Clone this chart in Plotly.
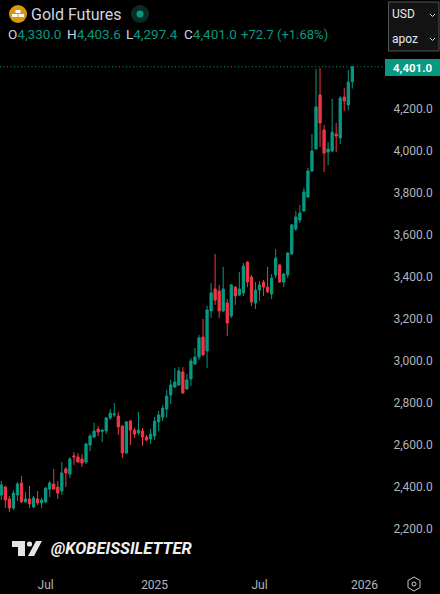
import plotly.graph_objects as go
import pandas as pd

first_week = "2024-04-15"
opens = [2362,2400,2343,2300,2362,2419,2329,2343,2305,2343,2324,2329,2390,2414,2400,2381,2486,2462,2548,2543,
         2533,2519,2600,2638,2676,2664,2667,2729,2743,2738,2690,2562,2714,2671,2657,2667,2638,2629,2643,2710,
         2733,2771,2838,2876,2886,2948,2867,2914,2986,3019,3114,3048,3238,3343,3333,3238,3276,3214,3352,3314,
         3324,3471,3400,3276,3338,3376,3352,3319,3410,3457,3376,3410,3510,3629,3671,3714,3781,3905,4010,4267,
         4100,3995,4000,4081,4062,4257,4219,4330.0]
highs = [2429,2405,2357,2386,2424,2452,2376,2405,2357,2381,2348,2400,2429,2486,2429,2519,2495,2543,2567,2562,
         2557,2610,2652,2705,2690,2676,2733,2771,2800,2757,2695,2714,2719,2681,2757,2681,2648,2676,2733,2762,
         2790,2862,2910,2967,2971,2971,2938,3014,3062,3124,3200,3262,3371,3510,3362,3448,3295,3367,3357,3424,
         3467,3476,3410,3376,3381,3386,3448,3414,3533,3462,3419,3519,3652,3714,3743,3824,3919,4081,4390,4395,
         4124,4043,4248,4133,4262,4300,4386,4403.6]
lows = [2338,2300,2281,2290,2333,2324,2326,2300,2300,2314,2300,2324,2352,2386,2343,2362,2400,2443,2505,2514,
        2495,2510,2571,2633,2643,2614,2652,2719,2733,2648,2538,2557,2600,2633,2648,2595,2619,2605,2624,2667,
        2714,2729,2795,2872,2881,2843,2862,2881,2981,3005,3024,2967,3205,3267,3205,3233,3119,3205,3267,3310,
        3310,3352,3262,3248,3286,3310,3324,3295,3395,3371,3352,3395,3505,3619,3657,3710,3776,3900,4005,4019,
        3900,3933,3995,3995,4033,4190,4195,4297.4]
closes = [2410,2338,2300,2371,2414,2329,2343,2319,2348,2324,2338,2395,2419,2390,2371,2467,2467,2533,2543,2519,
          2514,2605,2643,2667,2662,2671,2729,2752,2748,2686,2562,2710,2671,2652,2671,2638,2624,2652,2714,2743,
          2776,2833,2886,2900,2952,2848,2910,3000,3019,3110,3029,3243,3324,3290,3238,3343,3181,3362,3310,3343,
          3452,3376,3281,3338,3362,3352,3329,3395,3490,3376,3414,3514,3648,3686,3705,3805,3905,4000,4210,4133,
          3990,4010,4090,4071,4252,4238,4328.3,4401.0]
price_ticks = [2200,2400,2600,2800,3000,3200,3400,3600,3800,4000,4200]
time_ticks = ["2024-07-01","2025-01-06","2025-07-07","2026-01-05"]
time_labels = ["Jul","2025","Jul","2026"]
title = "Gold Futures"
watermark = "@KOBEISSILETTER"
last_price = 4401.0

GREEN = "#089981"; RED = "#F23645"; GREY = "#b2b5be"
W, H = 440, 594
PW, PH = 385, 572
px = lambda v: v / PW
py = lambda v: 1 - v / PH

dates = pd.date_range(first_week, periods=len(opens), freq="7D")
fig = go.Figure(go.Candlestick(
    x=dates, open=opens, high=highs, low=lows, close=closes,
    increasing=dict(line=dict(color=GREEN, width=1), fillcolor=GREEN),
    decreasing=dict(line=dict(color=RED, width=1), fillcolor=RED),
    whiskerwidth=0, hoverinfo="skip", showlegend=False))

def shape(**k):
    base = dict(xref="paper", yref="paper", layer="above", line=dict(width=0))
    base.update(k)
    return base

def path(points, close=True):
    return "M" + " L".join(f"{px(a)} {py(b)}" for a, b in points) + (" Z" if close else "")

def circ(cx, cy, r, color, **k):
    return shape(type="circle", x0=px(cx-r), x1=px(cx+r), y0=py(cy+r), y1=py(cy-r), fillcolor=color, **k)

def rect(x0, y0, x1, y1, color, **k):
    return shape(type="rect", x0=px(x0), x1=px(x1), y0=py(y1), y1=py(y0), fillcolor=color, **k)

shapes = [
    circ(18, 14, 9, "#d8970f"),
    rect(15.5, 10, 20.5, 13, "#ffffff"), rect(12, 14, 17.5, 17, "#ffffff"), rect(18.5, 14, 24, 17, "#ffffff"),
    circ(140, 14, 9, "#0b2a26"), circ(140, 14, 3.5, GREEN),
    shape(type="rect", x0=px(388.5), x1=px(439), y0=py(51), y1=py(2), fillcolor="#131313",
          line=dict(color="#555555", width=1)),
    shape(type="path", path=path([(430, 14), (432.5, 16.5), (435, 14)], False), line=dict(color="#d1d4dc", width=1)),
    shape(type="path", path=path([(430, 38), (432.5, 40.5), (435, 38)], False), line=dict(color="#d1d4dc", width=1)),
    shape(type="line", x0=0, x1=1, y0=last_price, y1=last_price, yref="y", xref="paper",
          line=dict(color=GREEN, width=1, dash="1px,2.5px"), layer="below"),
    rect(385, 59, 440, 76, GREEN),
    shape(type="path", path=path([(12, 541), (25, 541), (25, 556), (18, 556), (18, 547), (12, 547)]), fillcolor="#e4e4e4"),
    circ(29.5, 544, 2.6, "#e4e4e4"),
    shape(type="path", path=path([(36, 541), (42, 541), (34, 556), (28, 556)]), fillcolor="#e4e4e4"),
    shape(type="path", path=path([(414, 577), (420, 580.5), (420, 587.5), (414, 591), (408, 587.5), (408, 580.5)]),
          line=dict(color="#c8c8c8", width=1), fillcolor="rgba(0,0,0,0)"),
    circ(414, 584, 2, "rgba(0,0,0,0)") | dict(line=dict(color="#c8c8c8", width=1)),
]

def note(x, y, text, size, color="#d1d4dc", anchor="left", family="Roboto", **k):
    return dict(xref="paper", yref="paper", x=px(x - 2), y=py(y), text=text, showarrow=False, xanchor=anchor,
                yanchor="middle", align=anchor, font=dict(size=size, color=color, family=family), **k)

def g(s):
    return f'<span style="color:{GREEN}">{s}</span>'

o, h, l, c = opens[-1], highs[-1], lows[-1], closes[-1]
d = c - closes[-2]

annotations = [
    note(31, 14.5, title, 16),
    note(8, 34, "O" + g(f"{o:,.1f}"), 13.5),
    note(67, 34, "H" + g(f"{h:,.1f}"), 13.5),
    note(126, 34, "L" + g(f"{l:,.1f}"), 13.5),
    note(184, 34, "C" + g(f"{c:,.1f}"), 13.5),
    note(241, 34, g(f"+{d:.1f} (+{d / closes[-2] * 100:.2f}%)"), 13),
    note(392, 14, "USD", 12, "#e8e8f0"),
    note(392, 39, "apoz", 12, "#e8e8f0"),
    note(392.5, 67.5, f"<b>{last_price:,.1f}</b>", 11.5, "#ffffff"),
    note(51, 548, f"<b><i>{watermark}</i></b>", 16.5, "#f0f0f0"),
]

fig.update_layout(
    width=W, height=H, autosize=False, paper_bgcolor="#000000", plot_bgcolor="#000000",
    margin=dict(l=0, r=W-PW, t=0, b=H-PH), boxgap=0.2, dragmode=False,
    shapes=shapes, annotations=annotations, showlegend=False,
    xaxis=dict(type="date", rangeslider=dict(visible=False), range=["2024-04-12 18:00", "2026-02-09 17:00"],
               tickmode="array", tickvals=time_ticks, ticktext=time_labels, tickangle=0,
               showgrid=False, zeroline=False, showline=False, ticks="outside", ticklen=2, tickcolor="#000000",
               tickfont=dict(size=12, color=GREY, family="Roboto")),
    yaxis=dict(side="right", range=[4200-(PH-109)/0.21, 4200+109/0.21], tickmode="array", tickvals=price_ticks,
               tickformat=",.1f", showgrid=False, zeroline=False, showline=False,
               ticks="outside", ticklen=5, tickcolor="#000000",
               tickfont=dict(size=12, color=GREY, family="Roboto")),
)
fig.write_html("out.html", config=dict(displayModeBar=False, staticPlot=True),
               post_script="document.body.style.margin='0';document.body.style.background='#000';document.body.style.overflow='hidden';")
